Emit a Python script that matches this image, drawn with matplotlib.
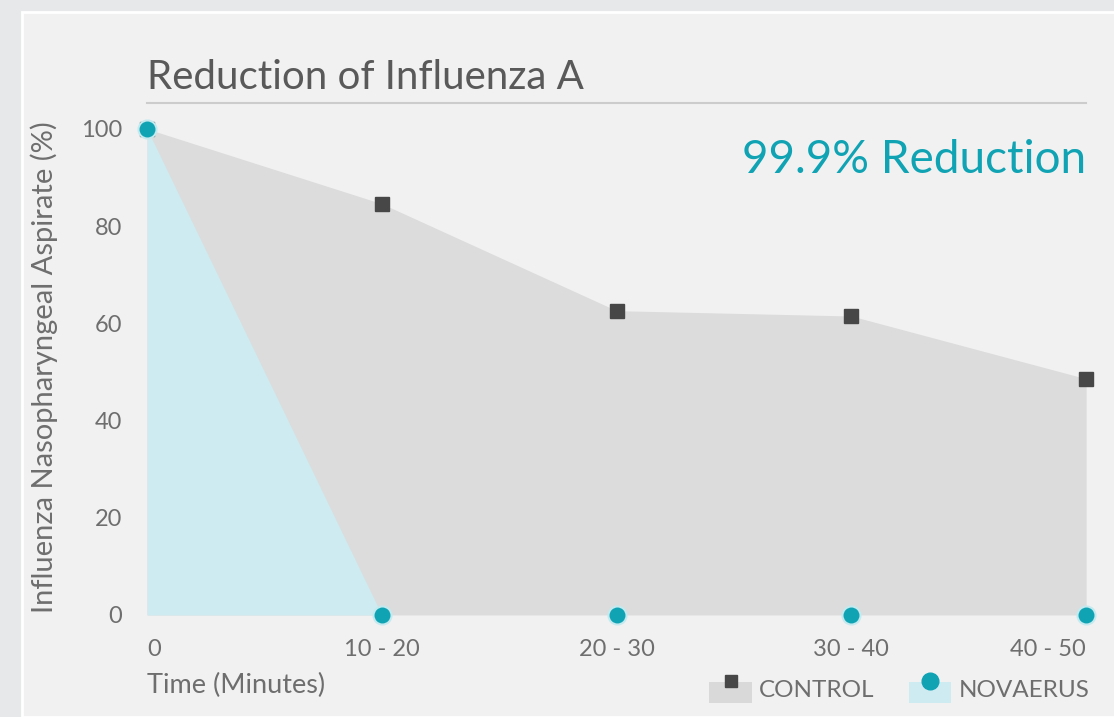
import matplotlib
matplotlib.use("Agg")
import matplotlib.pyplot as plt
from matplotlib.patches import Rectangle
from matplotlib.lines import Line2D
from matplotlib.legend_handler import HandlerBase

plt.rcParams['font.family'] = ['Lato', 'DejaVu Sans']

# data
time_labels = ["0", "10 - 20", "20 - 30", "30 - 40", "40 - 50"]
control = [100, 84.6, 62.6, 61.5, 48.6]
novaerus = [100, 0, 0, 0, 0]
series_names = ["CONTROL", "NOVAERUS"]

TEAL = "#0fa3b4"
TEXT = "#6e6e6e"


class Key:
    def __init__(self, face, marker, color, ms):
        self.face, self.marker, self.color, self.ms = face, marker, color, ms


class KeyHandler(HandlerBase):
    # patch with the marker sitting on its top edge, like the original key
    def create_artists(self, legend, key, xdescent, ydescent, width, height,
                       fontsize, trans):
        r = Rectangle((-xdescent, -ydescent - 0.2 * height), width, 1.05 * height,
                      facecolor=key.face, edgecolor="none", transform=trans)
        m = Line2D([width / 2 - xdescent], [0.9 * height - ydescent],
                   linestyle="none", marker=key.marker, markersize=key.ms,
                   color=key.color, transform=trans)
        return [r, m]


fig = plt.figure(figsize=(11.14, 7.17), dpi=100)
fig.patch.set_facecolor("#e7e8e9")
fig.add_artist(Rectangle((22 / 1114, 0), 1, 1 - 12 / 717, transform=fig.transFigure,
                         facecolor="#f1f1f1", edgecolor="white", linewidth=2,
                         zorder=-10))

ax = fig.add_axes([0.132, 0.1423, 0.843, 0.678])
ax.set_facecolor("none")
x = list(range(len(time_labels)))

ax.fill_between(x, control, 0, color="#dcdcdc", linewidth=0)
ax.fill_between(x, novaerus, 0, color="#cdebf0", linewidth=0)
ax.plot(x, control, linestyle="none", marker="s", markersize=10,
        color="#474747", clip_on=False, zorder=4)
ax.plot(x, novaerus, linestyle="none", marker="o", markersize=13,
        color=TEAL, markeredgecolor="#c4eaef", markeredgewidth=1.5,
        clip_on=False, zorder=5)

ax.set_xlim(0, len(time_labels) - 1)
ax.set_ylim(0, 100)
ax.set_xticks(x)
ax.set_xticklabels(time_labels)
ax.set_yticks([0, 20, 40, 60, 80, 100])
ax.tick_params(length=0, labelsize=17, labelcolor=TEXT)
ax.tick_params(axis="y", pad=18)
ax.tick_params(axis="x", pad=17)
labels = ax.get_xticklabels()
labels[0].set_horizontalalignment("left")
labels[-1].set_horizontalalignment("right")
for s in ax.spines.values():
    s.set_visible(False)

fig.text(0.132, 0.8926, "Reduction of Influenza A", fontsize=29, color="#595959",
         va="center", ha="left")
fig.add_artist(Line2D([0.132, 0.975], [0.856, 0.856], transform=fig.transFigure,
                      color="#cccccc", linewidth=1.5))
fig.text(0.975, 0.777, "99.9% Reduction", fontsize=33, color=TEAL,
         va="center", ha="right")
fig.text(0.040, 0.488, "Influenza Nasopharyngeal Aspirate (%)", fontsize=21,
         color=TEXT, rotation=90, va="center", ha="center")
fig.text(0.132, 0.0446, "Time (Minutes)", fontsize=19.5, color=TEXT,
         va="center", ha="left")

keys = [Key("#d9d9d9", "s", "#474747", 9), Key("#cdebf0", "o", TEAL, 12)]
fig.legend(keys, series_names, handler_map={Key: KeyHandler()},
           loc="lower right", bbox_to_anchor=(0.978, 0.022), ncol=2,
           frameon=False, fontsize=17.5, labelcolor=TEXT, borderpad=0,
           borderaxespad=0, handlelength=1.75, handleheight=0.9,
           columnspacing=1.4, handletextpad=0.3)

fig.savefig("out.png", dpi=100, facecolor=fig.get_facecolor())
